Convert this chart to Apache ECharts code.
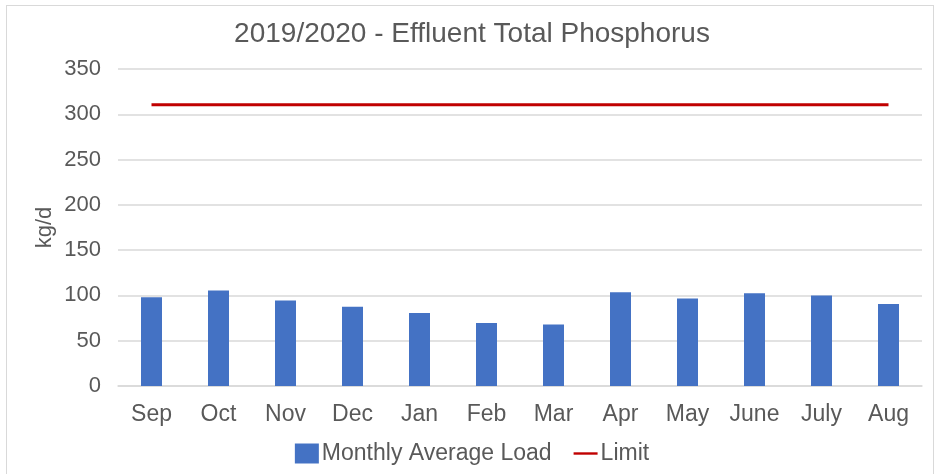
<!DOCTYPE html>
<html>
<head>
<meta charset="utf-8">
<script src="https://cdn.jsdelivr.net/npm/echarts@6/dist/echarts.min.js"></script>
<style>
html,body{margin:0;padding:0;background:#fff;}
#frame{position:absolute;left:6px;top:5px;width:928px;height:470px;border:1px solid #d9d9d9;box-sizing:border-box;}
#chart{position:absolute;left:0;top:0;width:944px;height:474px;}
</style>
</head>
<body>
<div id="frame"></div>
<div id="chart"></div>
<script>
const categories = ["Sep","Oct","Nov","Dec","Jan","Feb","Mar","Apr","May","June","July","Aug"];
const monthlyAverageLoad = [98, 105.5, 94.5, 87.5, 80.5, 69.5, 68, 103.5, 96.5, 102.5, 100, 90.5];
const limit = [310.5,310.5,310.5,310.5,310.5,310.5,310.5,310.5,310.5,310.5,310.5,310.5];
const yTicks = {min:0, max:350, interval:50};

const chart = echarts.init(document.getElementById('chart'));
const font = 'Liberation Sans, Arial, sans-serif';
chart.setOption({
  animation:false,
  title:{text:'2019/2020 - Effluent Total Phosphorus', left:'center', top:15,
    textStyle:{fontFamily:font, fontSize:28, fontWeight:'normal', color:'#595959'}},
  grid:{left:118, right:22, top:69, bottom:88},
  legend:{bottom:4, left:'center', itemGap:22, itemWidth:24, itemHeight:20,
    textStyle:{fontFamily:font, fontSize:23, color:'#595959', padding:[0,0,0,-2]},
    data:[{name:'Monthly Average Load', icon:'rect'},{name:'Limit', icon:'path://M0,0 L10,0 L10,1 L0,1 Z'}]},
  xAxis:{type:'category', data:categories, boundaryGap:true,
    axisLine:{lineStyle:{color:'#d9d9d9', width:1.5}}, axisTick:{show:false},
    axisLabel:{fontFamily:font, fontSize:23, color:'#595959', margin:17, interval:0}},
  yAxis:{type:'value', min:yTicks.min, max:yTicks.max, interval:yTicks.interval,
    name:'kg/d', nameLocation:'middle', nameGap:62, nameRotate:90, nameMoveOverlap:false,
    nameTextStyle:{fontFamily:font, fontSize:22, color:'#595959'},
    axisLine:{show:false}, axisTick:{show:false},
    axisLabel:{fontFamily:font, fontSize:22, color:'#595959', margin:17},
    splitLine:{lineStyle:{color:'#d9d9d9', width:1.5}}},
  series:[
    {name:'Monthly Average Load', type:'bar', data:monthlyAverageLoad, barWidth:21,
     itemStyle:{color:'#4472C4'}},
    {name:'Limit', type:'line', data:limit, symbol:'none',
     lineStyle:{color:'#C00000', width:3}, itemStyle:{color:'#C00000'}}
  ]
});
</script>
</body>
</html>
